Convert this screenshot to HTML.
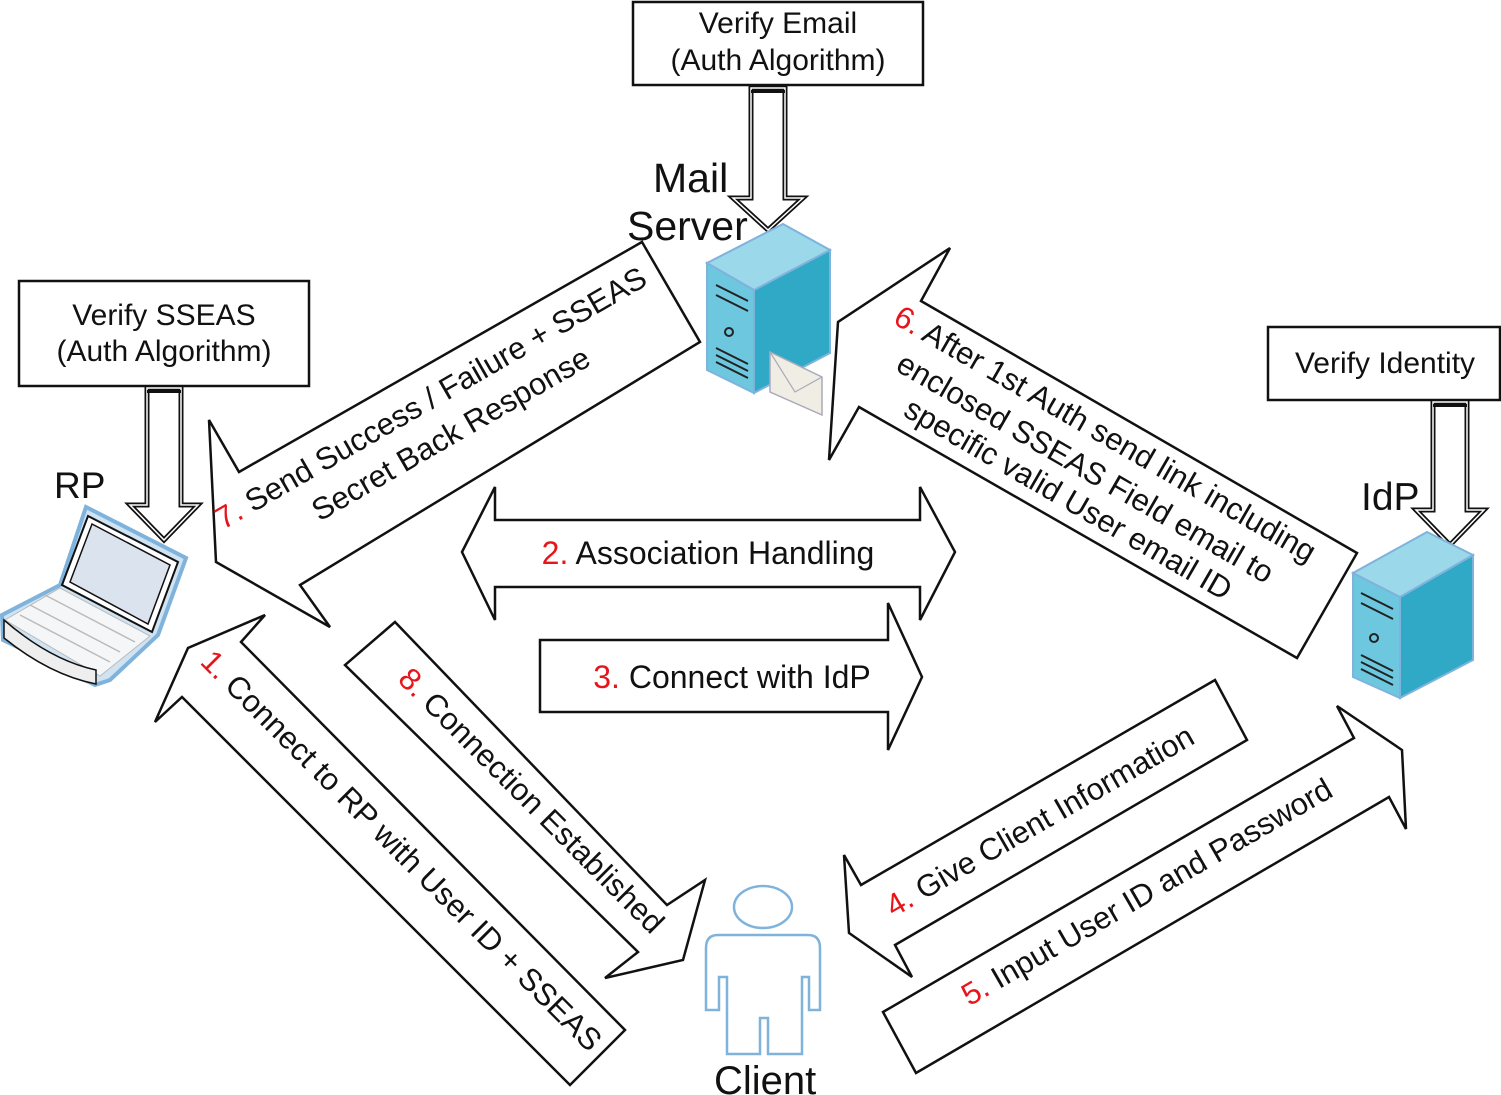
<!DOCTYPE html>
<html><head><meta charset="utf-8"><style>
html,body{margin:0;padding:0;background:#fff;}
svg{display:block;}
text{font-family:"Liberation Sans",sans-serif;fill:#111;}
.r{fill:#e8141b;}
</style></head><body>
<svg width="1501" height="1095" viewBox="0 0 1501 1095" xmlns="http://www.w3.org/2000/svg">
<g fill="#fff" stroke="#111" stroke-width="2.5" stroke-linejoin="miter">
<rect x="633" y="2" width="290" height="83"/>
<rect x="19" y="281" width="290" height="105"/>
<rect x="1268" y="327" width="232" height="73"/>
<polygon points="642,242 700,342 300,585 330,627 216,562 209,420 239,472"/>
<polygon points="921,301 950,248 838,322 829,460 859,407 1297,658 1357,553"/>
<polygon points="462,552 495,487 495,520 920,520 920,487 955,552 920,620 920,587 495,587 495,620"/>
<polygon points="540,640 888,640 888,603 922,677 888,750 888,712 540,712"/>
<polygon points="265,615 241,642 625,1030 570,1085 182,697 155,722 188,648"/>
<polygon points="395,622 345,665 638,952 605,978 683,960 705,880 667,905"/>
<polygon points="1215,680 1247,740 895,945 912,977 849,933 844,855 861,885"/>
<polygon points="883,1012 916,1073 1389,797 1406,829 1402,750 1337,706 1354,738"/>
</g>
<g fill="#fff" stroke="#111" stroke-width="5" stroke-linejoin="miter">
<polygon points="751,88 785,88 785,198 803,198 768,230 733,198 751,198"/>
<polygon points="147,388 181,388 181,505 198,505 164,540 130,505 147,505"/>
<polygon points="1433,402 1467,402 1467,510 1484,510 1450,545 1416,510 1433,510"/>
</g>
<g fill="none" stroke="#fff" stroke-width="1.5">
<polygon points="751,88 785,88 785,198 803,198 768,230 733,198 751,198"/>
<polygon points="147,388 181,388 181,505 198,505 164,540 130,505 147,505"/>
<polygon points="1433,402 1467,402 1467,510 1484,510 1450,545 1416,510 1433,510"/>
</g>
<g fill="#111"><rect x="751" y="90" width="34" height="3"/><rect x="147" y="390" width="34" height="3"/><rect x="1433" y="404" width="34" height="3"/></g>

<g stroke="#7fb3dc" stroke-width="2">
<polygon points="707,263 754,290 754,393 707,370" fill="#6dc7df"/>
<polygon points="754,290 830,250 830,353 754,393" fill="#2fa9c6"/>
<polygon points="707,263 783,224 830,250 754,290" fill="#9ad8ea"/>
</g>
<g stroke="#222" stroke-width="2" fill="none">
<line x1="716" y1="285" x2="748" y2="301"/><line x1="716" y1="295" x2="748" y2="311"/>
<line x1="716" y1="348" x2="748" y2="364"/><line x1="716" y1="355" x2="748" y2="371"/><line x1="716" y1="362" x2="748" y2="378"/>
<circle cx="729" cy="332" r="4"/>
</g>
<polygon points="770,352 822,377 822,415 770,392" fill="#f0ede4" stroke="#aab" stroke-width="1.5"/>
<polyline points="770,352 795,392 822,377" fill="none" stroke="#aab" stroke-width="1.2"/>

<g stroke="#7fb3dc" stroke-width="2">
<polygon points="1353,573 1400,597 1400,698 1353,677" fill="#6dc7df"/>
<polygon points="1400,597 1473,555 1473,660 1400,698" fill="#2fa9c6"/>
<polygon points="1353,573 1427,532 1473,555 1400,597" fill="#9ad8ea"/>
</g>
<g stroke="#222" stroke-width="2" fill="none">
<line x1="1361" y1="593" x2="1393" y2="609"/><line x1="1361" y1="603" x2="1393" y2="619"/>
<line x1="1361" y1="655" x2="1393" y2="671"/><line x1="1361" y1="662" x2="1393" y2="678"/><line x1="1361" y1="669" x2="1393" y2="685"/>
<circle cx="1374" cy="638" r="4"/>
</g>

<polygon points="86,507 186,558 158,635 110,680 95,685 3,640 2,615 60,585" fill="#cfe3f3" stroke="#7fb3dc" stroke-width="4"/>
<polygon points="88,516 178,562 152,632 62,585" fill="#fff" stroke="#111" stroke-width="2"/>
<polygon points="92,524 170,565 148,624 70,582" fill="#dbe3ef" stroke="#111" stroke-width="1.5"/>
<polygon points="60,588 150,636 100,676 5,620" fill="#f4f6f8" stroke="#bbb" stroke-width="1"/>
<g stroke="#bbb" stroke-width="1.5"><line x1="30" y1="605" x2="120" y2="652"/><line x1="20" y1="615" x2="110" y2="662"/><line x1="45" y1="595" x2="135" y2="642"/></g>
<path d="M4,620 Q50,660 96,670 L96,684 Q50,675 4,638 Z" fill="#eee" stroke="#111" stroke-width="1.5"/>

<g fill="#fff" stroke="#7fb3dc" stroke-width="2.5">
<ellipse cx="763" cy="907" rx="29" ry="21"/>
<path d="M718,935 L808,935 Q820,935 820,948 L820,1010 L809,1010 L809,977 L802,977 L802,1054 L768,1054 L768,1018 L760,1018 L760,1054 L727,1054 L727,977 L719,977 L719,1010 L706,1010 L706,948 Q706,935 718,935 Z"/>
</g>

<text x="778" y="33" font-size="30" text-anchor="middle">Verify Email</text>
<text x="778" y="70" font-size="30" text-anchor="middle">(Auth Algorithm)</text>
<text x="164" y="325" font-size="30" text-anchor="middle">Verify SSEAS</text>
<text x="164" y="361" font-size="30" text-anchor="middle">(Auth Algorithm)</text>
<text x="1385" y="373" font-size="30" text-anchor="middle">Verify Identity</text>
<text x="653" y="192" font-size="41">Mail</text>
<text x="627" y="240" font-size="41">Server</text>
<text x="54" y="498" font-size="37">RP</text>
<text x="1361" y="510" font-size="39">IdP</text>
<text x="714" y="1094" font-size="40">Client</text>

<text x="708" y="564" font-size="32" text-anchor="middle"><tspan class="r">2.</tspan> Association Handling</text>
<text x="732" y="688" font-size="32" text-anchor="middle"><tspan class="r">3.</tspan> Connect with IdP</text>

<g transform="translate(436,407) rotate(-30)"><text font-size="31" text-anchor="middle"><tspan class="r">7.</tspan> Send Success / Failure + SSEAS</text></g>
<g transform="translate(456,443) rotate(-30)"><text font-size="31" text-anchor="middle">Secret Back Response</text></g>

<g transform="translate(1100,443) rotate(30)"><text font-size="31" text-anchor="middle"><tspan class="r">6.</tspan> After 1st Auth send link including</text></g>
<g transform="translate(1080,477) rotate(30)"><text font-size="31" text-anchor="middle">enclosed SSEAS Field email to</text></g>
<g transform="translate(1063,508) rotate(30)"><text font-size="31" text-anchor="middle">specific valid User email ID</text></g>

<g transform="translate(394,858) rotate(45)"><text font-size="31" text-anchor="middle"><tspan class="r">1.</tspan> Connect to RP with User ID + SSEAS</text></g>
<g transform="translate(524,808) rotate(45)"><text font-size="31" text-anchor="middle"><tspan class="r">8.</tspan> Connection Established</text></g>
<g transform="translate(1045,830) rotate(-30)"><text font-size="31" text-anchor="middle"><tspan class="r">4.</tspan> Give Client Information</text></g>
<g transform="translate(1152,901) rotate(-30)"><text font-size="31" text-anchor="middle"><tspan class="r">5.</tspan> Input User ID and Password</text></g>
</svg>
</body></html>
